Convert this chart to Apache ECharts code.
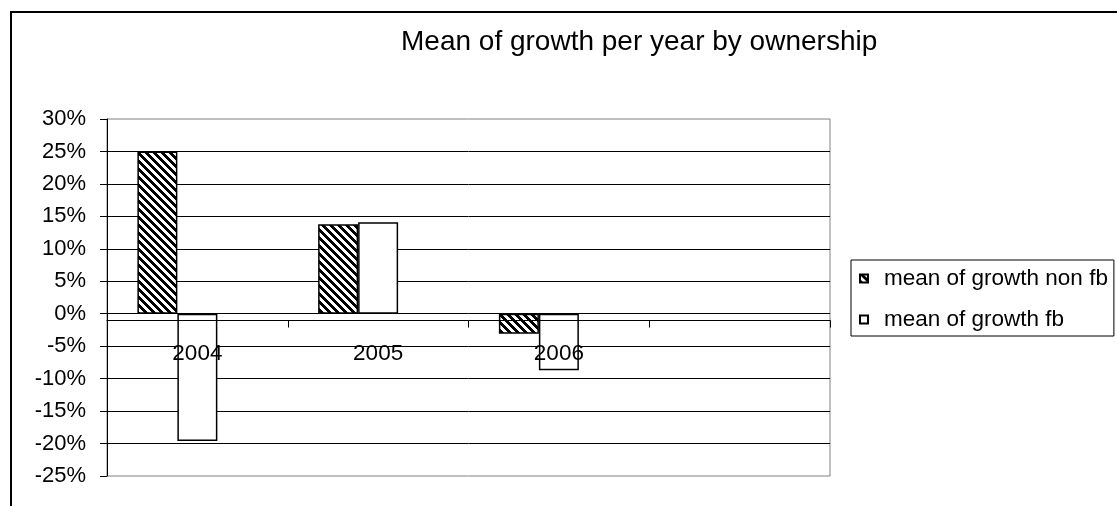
<!DOCTYPE html>
<html>
<head>
<meta charset="utf-8">
<script src="https://cdn.jsdelivr.net/npm/echarts@6/dist/echarts.min.js"></script>
<style>
html,body{margin:0;padding:0;background:#fff;}
#chart{width:1117px;height:506px;}
</style>
</head>
<body>
<div id="chart"></div>
<script>
// ---- data ----
const titleText = 'Mean of growth per year by ownership';
const categories = ['2004', '2005', '2006', ''];
const seriesNames = ['mean of growth non fb', 'mean of growth fb'];
const nonFb = [25.0, 13.8, -3.1, null];
const fb = [-19.6, 14.1, -8.7, null];
const blank = [null, null, null, null];
const yMin = -25, yMax = 30, yStep = 5;

// hatch pattern (wide downward diagonal)
function makeHatch() {
  const c = document.createElement('canvas');
  c.width = 8; c.height = 8;
  const ctx = c.getContext('2d');
  ctx.fillStyle = '#fff';
  ctx.fillRect(0, 0, 8, 8);
  ctx.fillStyle = '#000';
  for (let y = 0; y < 8; y++) {
    for (let x = 0; x < 8; x++) {
      if ((((x - y) % 8) + 8) % 8 < 4) ctx.fillRect(x, y, 1, 1);
    }
  }
  return c;
}
const hatch = makeHatch();

const FONT = 'Liberation Sans, Arial, sans-serif';
const GRID = {left: 107, right: 287, top: 119, bottom: 30};
const chart = echarts.init(document.getElementById('chart'), null, {renderer: 'canvas'});
chart.setOption({
  animation: false,
  backgroundColor: '#fff',
  title: {
    text: titleText,
    left: 401, top: 28, padding: 0,
    textStyle: {fontFamily: FONT, fontSize: 28, fontWeight: 'normal', color: '#000'}
  },
  legend: {
    data: seriesNames,
    orient: 'vertical',
    left: 851, top: 260,
    padding: [7, 6, 5, 8],
    itemGap: 18,
    itemWidth: 8, itemHeight: 8,
    icon: 'rect',
    borderColor: '#000', borderWidth: 1,
    textStyle: {fontFamily: FONT, fontSize: 22.5, lineHeight: 22, color: '#000', padding: [0, 0, 0, 11]}
  },
  grid: Object.assign({
    show: true, borderColor: '#808080', borderWidth: 1, backgroundColor: 'transparent'
  }, GRID),
  xAxis: {
    type: 'category',
    data: categories,
    z: 5,
    offset: 0,
    axisLine: {onZero: false, lineStyle: {color: '#000', width: 1}},
    axisTick: {show: true, alignWithLabel: false, inside: false, length: 7, lineStyle: {color: '#000'}},
    axisLabel: {fontFamily: FONT, fontSize: 22.5, color: '#000', margin: 22, interval: 0},
    splitLine: {show: false}
  },
  yAxis: {
    type: 'value',
    min: yMin, max: yMax, interval: yStep,
    axisLine: {show: true, lineStyle: {color: '#000', width: 1}},
    axisTick: {show: true, inside: false, length: 7, lineStyle: {color: '#000'}},
    axisLabel: {fontFamily: FONT, fontSize: 22, color: '#000', margin: 21,
      formatter: v => Math.round(v) + '%'},
    splitLine: {show: true, showMinLine: false, showMaxLine: false, lineStyle: {color: '#000', width: 1}}
  },
  series: [
    {name: seriesNames[0], type: 'bar', data: nonFb, barWidth: 40, barGap: '0%',
      itemStyle: {color: {image: hatch, repeat: 'repeat'}, borderColor: '#000', borderWidth: 1.5}},
    {name: seriesNames[1], type: 'bar', data: fb, barWidth: 40, barGap: '0%',
      itemStyle: {color: '#fff', borderColor: '#000', borderWidth: 1.5}},
    {name: 'blank', type: 'bar', data: blank, barWidth: 40, barGap: '0%',
      itemStyle: {color: '#fff'}}
  ],
  graphic: [{
    type: 'rect', silent: true, z: 100,
    shape: {x: 11, y: 12, width: 1300, height: 700},
    style: {fill: 'none', stroke: '#000', lineWidth: 2}
  }]
});
// move the category axis (line, ticks, labels) to the zero value line
const zeroY = chart.convertToPixel({yAxisIndex: 0}, 0);
const bottomY = chart.convertToPixel({yAxisIndex: 0}, yMin);
chart.setOption({xAxis: {offset: -(bottomY - zeroY)}});
</script>
</body>
</html>
